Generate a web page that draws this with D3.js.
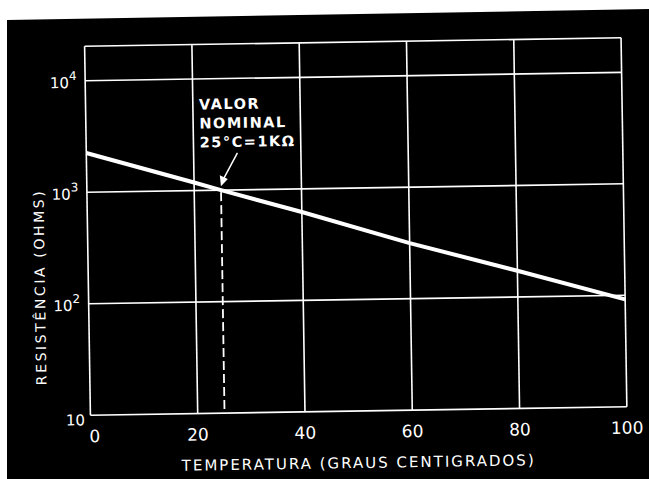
<!DOCTYPE html>
<html>
<head>
<meta charset="utf-8">
<script src="https://cdn.jsdelivr.net/npm/d3@7"></script>
<style>
  html, body { margin: 0; padding: 0; background: #fff; }
  svg { display: block; }
  text { font-family: "DejaVu Sans", sans-serif; fill: #fff; }
</style>
</head>
<body>
<div id="chart"></div>
<script>
// Thermistor curve: resistance vs temperature (log scale)
const temps = [0, 20, 25, 40, 60, 80, 100];
const resistances = [2250, 1180, 1000, 620, 315, 172, 92];

const xTicks = [0, 20, 40, 60, 80, 100];
const yTicks = [10, 100, 1000, 10000];
const yTickLabels = [
  { base: '10', exp: '' },
  { base: '10', exp: '2' },
  { base: '10', exp: '3' },
  { base: '10', exp: '4' },
];

const nominal = { t: 25, r: 1000 };
const noteLines = ['VALOR', 'NOMINAL', '25°C=1KΩ'];

const W = 649, H = 479;
const svg = d3.select('#chart').append('svg')
  .attr('width', W).attr('height', H);

// scanned black sheet, slightly tilted
svg.append('polygon')
  .attr('points', '7,20 649,9 649,479 7,479')
  .attr('fill', '#000');

const g = svg.append('g').attr('transform', 'rotate(-0.9, 356, 228)');

const x = d3.scaleLinear().domain([0, 100]).range([87.5, 624]);
const y = d3.scaleLog().domain([10, 20400]).range([411, 42]);

// grid
g.selectAll('.vgrid')
  .data(xTicks).enter()
  .append('line')
  .attr('x1', d => x(d)).attr('x2', d => x(d))
  .attr('y1', y(20400)).attr('y2', y(10))
  .attr('stroke', '#fff').attr('stroke-width', 1.6);

g.selectAll('.hgrid')
  .data(yTicks.concat([20400])).enter()
  .append('line')
  .attr('x1', x(0)).attr('x2', x(100))
  .attr('y1', d => y(d)).attr('y2', d => y(d))
  .attr('stroke', '#fff').attr('stroke-width', 1.6);

// y tick labels
const yl = g.selectAll('.ylab')
  .data(yTicks).enter()
  .append('text')
  .attr('text-anchor', 'end')
  .attr('font-size', '15px')
  .attr('x', (d, i) => i === 0 ? 82 : 79)
  .attr('y', (d, i) => y(d) + (i === 0 ? 10 : 7));
yl.append('tspan').text((d, i) => yTickLabels[i].base);
yl.append('tspan')
  .attr('dy', -8).attr('font-size', '12px')
  .text((d, i) => yTickLabels[i].exp);

// x tick labels
g.selectAll('.xlab')
  .data(xTicks).enter()
  .append('text')
  .attr('text-anchor', 'middle')
  .attr('font-size', '17px')
  .attr('x', d => x(d) + (d === 0 ? 4 : 0))
  .attr('y', 438)
  .text(d => d);

// axis titles
g.append('text')
  .attr('x', 355).attr('y', 468)
  .attr('text-anchor', 'middle')
  .attr('font-size', '15px')
  .attr('letter-spacing', '2px')
  .text('TEMPERATURA (GRAUS CENTIGRADOS)');

g.append('text')
  .attr('transform', 'translate(44, 282) rotate(-90)')
  .attr('text-anchor', 'middle')
  .attr('font-size', '14px')
  .attr('letter-spacing', '2.6px')
  .text('RESISTÊNCIA (OHMS)');

// nominal marker (dashed drop line)
g.append('line')
  .attr('x1', x(nominal.t)).attr('x2', x(nominal.t))
  .attr('y1', y(nominal.r) + 2).attr('y2', y(10))
  .attr('stroke', '#fff').attr('stroke-width', 1.8)
  .attr('stroke-dasharray', '9,4');

// curve
const line = d3.line()
  .x((d, i) => x(temps[i]))
  .y(d => y(d));

g.append('path')
  .datum(resistances)
  .attr('fill', 'none')
  .attr('stroke', '#fff')
  .attr('stroke-width', 4)
  .attr('d', line);

// annotation text
g.selectAll('.note')
  .data(noteLines).enter()
  .append('text')
  .attr('x', 201)
  .attr('y', (d, i) => 107 + i * 19)
  .attr('font-size', '14.5px')
  .attr('font-weight', 'bold')
  .attr('letter-spacing', '1.5px')
  .text(d => d);

// arrow
const ax = x(nominal.t), ay = y(nominal.r) - 4;
g.append('line')
  .attr('x1', ax + 17).attr('y1', ay - 33)
  .attr('x2', ax + 2).attr('y2', ay - 6)
  .attr('stroke', '#fff').attr('stroke-width', 1.5);
g.append('path')
  .attr('d', `M${ax},${ay} L${ax - 1},${ay - 11} L${ax + 7},${ay - 7} Z`)
  .attr('fill', '#fff');
</script>
</body>
</html>
